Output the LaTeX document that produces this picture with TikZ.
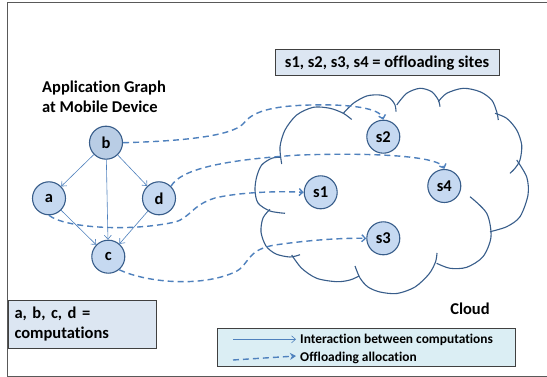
\documentclass[tikz,border=0pt]{standalone}
\usepackage{fontspec}
\setmainfont{Carlito}[Ligatures={NoCommon}]
\usetikzlibrary{arrows.meta}
\definecolor{nodefill}{HTML}{C6D9F1}
\definecolor{bfill}{HTML}{B9CDE5}
\definecolor{nodeline}{HTML}{385D8A}
\definecolor{arrowblue}{HTML}{4F81BD}
\definecolor{boxfill}{HTML}{DCE6F2}
\definecolor{legfill}{HTML}{DBEEF4}
\definecolor{framegray}{HTML}{595959}
\begin{document}
\begin{tikzpicture}[x=1pt,y=-1pt,
  comp/.style={circle, draw=nodeline, line width=1.1pt, fill=nodefill, minimum size=33pt, inner sep=0pt, font=\bfseries\fontsize{16.5}{16.5}\selectfont},
  inter/.style={draw=arrowblue, line width=0.6pt, -{Straight Barb[length=4pt,width=7pt]}},
  off/.style={draw=arrowblue, line width=1.4pt, dash pattern=on 6pt off 4pt, -{Straight Barb[length=3.5pt,width=7pt]}},
  cloudline/.style={draw=nodeline, line width=1.1pt},
  infobox/.style={draw=black!75, line width=1pt, fill=boxfill},
  lbl/.style={font=\bfseries\fontsize{16.5}{20}\selectfont, align=left},
  leglbl/.style={font=\bfseries\fontsize{13.4}{14}\selectfont, anchor=west, inner sep=0pt}
]
\useasboundingbox (0,0) rectangle (547,377);
\fill[white] (0,0) rectangle (547,377);
\draw[framegray, line width=1pt] (548,2.7) -- (7.7,2.7) -- (7.7,376) -- (548,376);

% cloud
\draw[cloudline] plot[smooth] coordinates {(281.7,164) (280,147) (285,130) (296.7,115) (313.3,107.3) (330,108.3) (343.3,113.3) (351.7,119.5)};
\draw[cloudline] plot[smooth] coordinates {(343.3,113.3) (353.3,103.3) (366.7,96) (380,95) (390,98.3) (395,105) (396,111.7)};
\draw[cloudline] plot[smooth] coordinates {(396.7,105) (406.7,93.3) (420,88.3) (431.7,91.7) (438.3,100) (440,106.7)};
\draw[cloudline] plot[smooth] coordinates {(438.3,101.7) (446.7,93.3) (463.3,88.3) (480,91.7) (491.7,100) (496.7,111.7) (498.3,120)};
\draw[cloudline] plot[smooth] coordinates {(495,113.3) (506.7,118.3) (516.7,130) (521.7,145) (520,160) (515,168.3) (510,173.3)};
\draw[cloudline] plot[smooth] coordinates {(516.7,160) (526.7,177) (528,195) (520,216.7) (506.7,226.7) (490,231.7)};
\draw[cloudline] plot[smooth] coordinates {(470,196.7) (486.7,213.3) (491,236.7) (483,256.7) (466.7,267.3) (450,268.3) (436.7,263.3)};
\draw[cloudline] plot[smooth] coordinates {(355,266) (360,278) (368,287) (380,292) (397,293.5) (415,287) (429,274) (435.5,262) (437,253)};
\draw[cloudline] plot[smooth] coordinates {(291.7,255) (301.7,268.3) (316.7,278.3) (336.7,281.7) (350,280) (359,276)};
\draw[cloudline] plot[smooth] coordinates {(270,209.3) (263,218) (261,232) (266,246) (276,254) (290,257) (300,254.7)};
\draw[cloudline] plot[smooth] coordinates {(280,157.3) (271.7,158.3) (261.7,165) (256.7,176.7) (255,190) (258,203) (270,211) (285,213.3)};

% nodes
\node[comp, fill=bfill] (b) at (106,142.7) {b};
\node[comp] (a) at (49,198.3) {a};
\node[comp] (d) at (159,198.3) {d};
\node[comp] (c) at (108.3,256.7) {c};
\node[comp] (s1) at (320.7,192.3) {s1};
\node[comp] (s2) at (383.3,136.7) {s2};
\node[comp] (s4) at (444.3,186) {s4};
\node[comp] (s3) at (383.3,238.3) {s3};

% interactions
\draw[inter] (b) -- (a);
\draw[inter] (b) -- (c);
\draw[inter] (b) -- (d);
\draw[inter] (a) -- (c);
\draw[inter] (d) -- (c);

% offloading
\draw[off] (b.east) .. controls (190,141) and (232,135) .. (243,124) .. controls (252,112) and (270,106) .. (310,105) .. controls (350,104) and (380,108) .. (s2.north);
\draw[off] (d.north east) .. controls (180,170) and (220,160) .. (300,155) .. controls (390,152) and (440,158) .. (s4.north);
\draw[off] (a.south) .. controls (65,228) and (130,232) .. (175,222) .. controls (190,218) and (192,205) .. (215,198) .. controls (240,192) and (280,191) .. (s1.west);
\draw[off] (c.-50) .. controls (145,282) and (200,288) .. (235,272) .. controls (250,265) and (245,250) .. (275,245) .. controls (310,240) and (340,238) .. (s3.west);

% labels
\node[lbl, anchor=west, inner sep=0pt] (title) at (42,97) {Application Graph\\at Mobile Device};
\node[infobox, lbl, minimum width=224pt, minimum height=26pt, inner sep=0pt] (sbox) at (387,63) {s1, s2, s3, s4 = offloading sites};
\node[infobox, lbl, anchor=north west, minimum height=48pt, text width=136pt, inner xsep=6pt, inner ysep=0pt] (cbox) at (8,300) {a, b, c, d =\\computations};
\node[lbl, inner sep=0pt] (cloud) at (470,309) {Cloud};

% legend
\node[draw=black!75, line width=1pt, fill=legfill, minimum width=298pt, minimum height=38.5pt, inner sep=0pt] (legend) at (366.5,347.5) {};
\coordinate (l1a) at (233,339.3);
\coordinate (l1b) at (296,339.3);
\coordinate (l2a) at (233,360);
\coordinate (l2b) at (296,356);
\draw[inter] (l1a) -- (l1b);
\draw[draw=arrowblue, line width=1.4pt, dash pattern=on 6pt off 4pt, -{Stealth[length=6pt,width=7pt]}] (l2a) -- (l2b);
\node[leglbl] (t1) at (300,340) {Interaction between computations};
\node[leglbl] (t2) at (300,357.5) {Offloading allocation};
\end{tikzpicture}
\end{document}
